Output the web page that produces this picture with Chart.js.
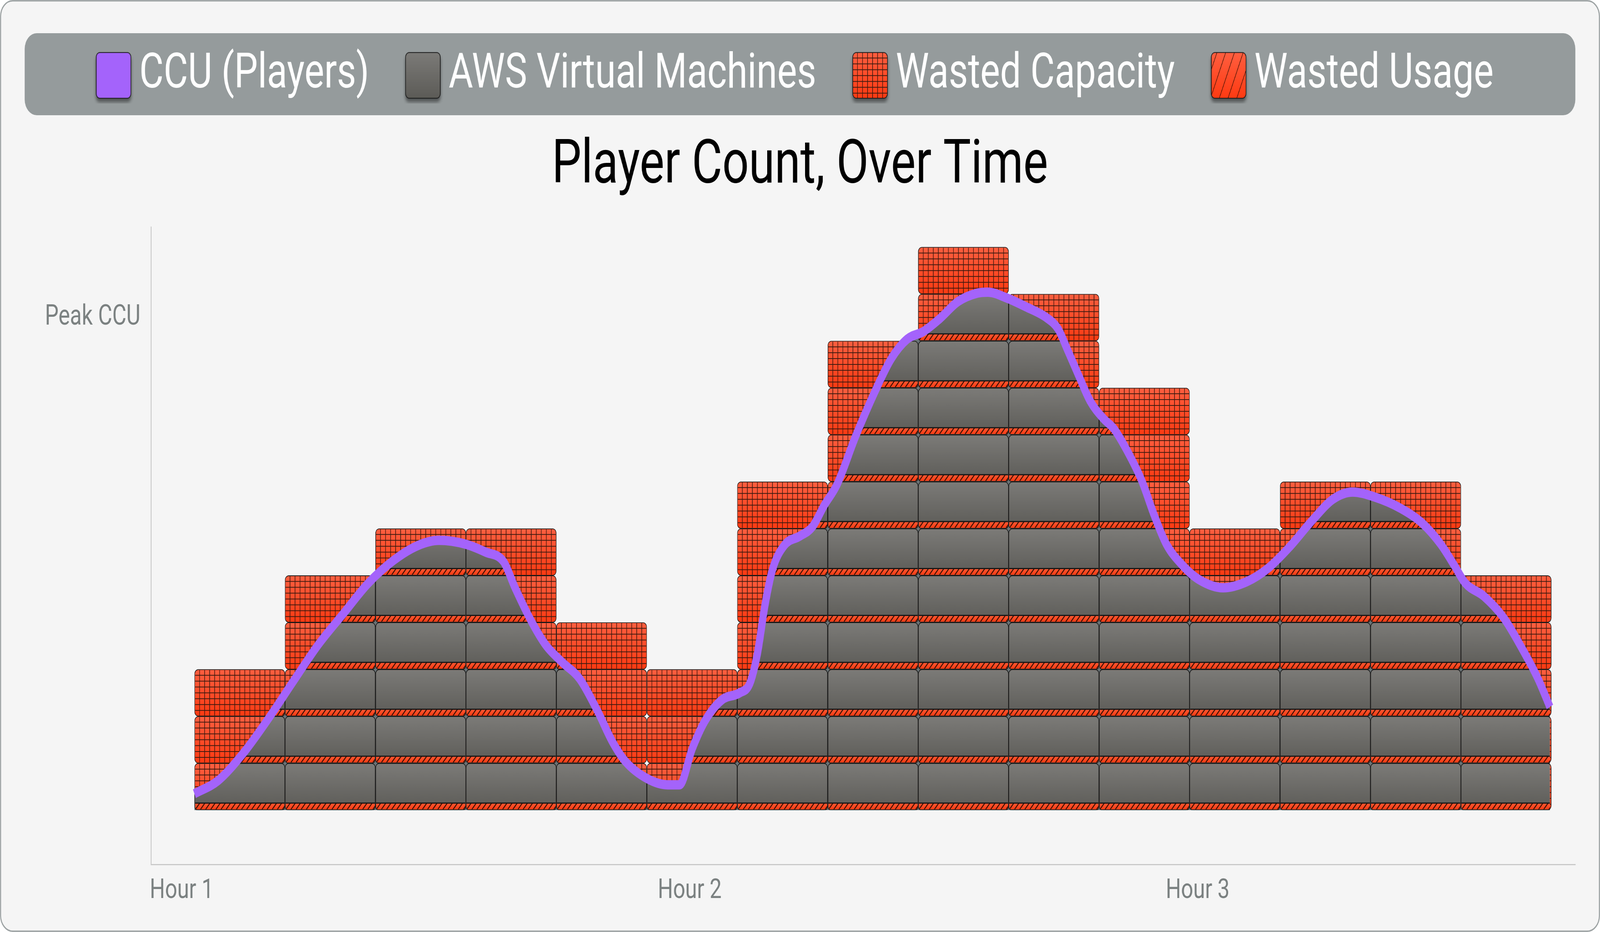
<!DOCTYPE html>
<html>
<head>
<meta charset="utf-8">
<title>Player Count, Over Time</title>
<script src="https://cdn.jsdelivr.net/npm/chart.js"></script>
<style>
  html, body { margin: 0; padding: 0; background: #ffffff; overflow: hidden; width: 100vw; height: 100vh; }
  canvas { display: block; width: 100vw !important; height: 100vh !important; }
</style>
</head>
<body>
<canvas id="grafico" width="5310" height="2386"></canvas>
<script>
// ---- datos ----
const hourTicks = [0, 60, 120];
const hourLabels = ['Hour 1', 'Hour 2', 'Hour 3'];
const yTicks = [10.5];
const yLabels = ['Peak CCU'];
const legendNames = ['CCU (Players)', 'AWS Virtual Machines', 'Wasted Capacity', 'Wasted Usage'];

// centro de cada franja de VMs (minutos) y cuantas VMs hay en ella
const slotMinutes = [6.86, 17.54, 28.23, 38.91, 49.59, 60.28, 70.96, 81.65, 92.33, 103.01, 113.70, 124.38, 135.07, 145.75, 156.43];
const vmCounts = [3, 5, 6, 6, 4, 3, 7, 10, 12, 11, 9, 6, 7, 7, 5];

// jugadores conectados, medido en "VMs llenas"
const ccuMinutes = [1.5, 4.3, 7.3, 10.2, 13.2, 16.1, 19.1, 22.0, 25.0, 27.9,
  30.4, 33.5, 35.9, 38.0, 39.4, 41.2, 43.0, 44.9, 47.0, 49.1,
  50.9, 52.4, 55.0, 57.4, 58.8, 60.3, 61.8, 63.8, 65.9, 67.1,
  68.0, 68.9, 69.8, 71.2, 73.0, 74.5, 75.9, 77.4, 79.6, 81.9,
  83.8, 85.7, 87.6, 89.5, 91.7, 94.0, 95.2, 97.4, 99.7, 102.2,
  103.5, 104.7, 106.0, 107.3, 108.9, 110.1, 111.7, 113.4, 114.9, 116.3,
  118.2, 120.1, 123.0, 125.8, 128.4, 130.9, 133.5, 136.0, 138.3, 140.8,
  144.0, 146.5, 148.7, 150.3, 151.6, 153.8, 156.1, 158.3, 160.2, 161.6];
const ccuValues = [0.35, 0.63, 1.22, 1.94, 2.75, 3.52, 4.19, 4.83, 5.32, 5.64,
  5.75, 5.67, 5.50, 5.30, 4.73, 4.06, 3.52, 3.16, 2.80, 2.12,
  1.45, 1.04, 0.67, 0.54, 0.54, 1.31, 1.90, 2.35, 2.50, 2.70,
  3.34, 4.38, 5.14, 5.65, 5.84, 6.04, 6.50, 6.94, 7.97, 8.93,
  9.62, 10.04, 10.20, 10.47, 10.84, 11.02, 11.04, 10.92, 10.73, 10.49,
  10.26, 9.78, 9.24, 8.72, 8.34, 8.13, 7.65, 7.02, 6.27, 5.67,
  5.22, 4.92, 4.74, 4.87, 5.17, 5.62, 6.17, 6.63, 6.78, 6.68,
  6.43, 6.12, 5.67, 5.22, 4.84, 4.56, 4.11, 3.45, 2.80, 2.20];

// ---- estilos ----
const PURPLE = '#a463fb';
const SLATE = '#6b7477';
const EDGE = '#171717';
const EDGE_W = 1.8;
const GRID_LINE = '#3a1a10';
const HATCH_LINE = '#3b1206';
const RED_TOP = '#ff5f40', RED_BOTTOM = '#ff3a12';
const GRAY_TOP = '#7c7b78', GRAY_BOTTOM = '#5c5b57';
const TICK_COLOR = '#7b8181';
const FONT = 'Roboto';

function layerGradient(chart, k, top, bottom) {
    const y = chart.scales.y;
    if (!y || !chart.chartArea) return bottom;
    const g = chart.ctx.createLinearGradient(0, y.getPixelForValue(k + 1), 0, y.getPixelForValue(k));
    g.addColorStop(0, top);
    g.addColorStop(1, bottom);
    return g;
}

function drawGrid(ctx, el) {
    const w = el.width, h = Math.abs(el.base - el.y);
    const left = el.x - w / 2, top = Math.min(el.y, el.base);
    ctx.save();
    ctx.beginPath();
    ctx.roundRect(left + EDGE_W, top + EDGE_W, w - 2 * EDGE_W, h - 2 * EDGE_W, 10);
    ctx.clip();
    ctx.beginPath();
    for (let j = 1; j < 18; j++) {
        const gx = left + j * w / 18;
        ctx.moveTo(gx, top);
        ctx.lineTo(gx, top + h);
    }
    for (let j = 1; j < 8; j++) {
        const gy = top + j * h / 8;
        ctx.moveTo(left, gy);
        ctx.lineTo(left + w, gy);
    }
    ctx.strokeStyle = GRID_LINE;
    ctx.lineWidth = 2;
    ctx.stroke();
    ctx.restore();
}

function drawStrip(ctx, el) {
    const w = el.width, h = Math.abs(el.base - el.y);
    const left = el.x - w / 2 + EDGE_W, right = el.x + w / 2 - EDGE_W;
    const top = Math.min(el.y, el.base) + EDGE_W;
    const bottom = Math.max(el.y, el.base) - EDGE_W;
    const sh = h * 0.135;
    const sTop = bottom - sh;
    ctx.save();
    ctx.beginPath();
    ctx.roundRect(left, top, right - left, bottom - top, [10, 10, 7, 7]);
    ctx.clip();
    const g = ctx.createLinearGradient(0, sTop, 0, bottom);
    g.addColorStop(0, '#ff5a34');
    g.addColorStop(1, '#ff3a12');
    ctx.fillStyle = g;
    ctx.fillRect(left, sTop, right - left, sh);
    ctx.beginPath();
    for (let t = left - sh; t < right + sh; t += 17) {
        ctx.moveTo(t, bottom);
        ctx.lineTo(t + sh * 0.9, sTop);
    }
    ctx.strokeStyle = HATCH_LINE;
    ctx.lineWidth = 3;
    ctx.stroke();
    ctx.beginPath();
    ctx.moveTo(left, sTop);
    ctx.lineTo(right, sTop);
    ctx.strokeStyle = EDGE;
    ctx.lineWidth = 3;
    ctx.stroke();
    ctx.restore();
}

function makeSwatch(kind) {
    const w = 117, h = 119, m = 30;
    const cv = document.createElement('canvas');
    cv.width = w + 2 * m;
    cv.height = h + 2 * m;
    const c = cv.getContext('2d');
    c.save();
    c.shadowColor = 'rgba(0,0,0,0.45)';
    c.shadowBlur = 10;
    c.shadowOffsetY = 9;
    c.beginPath();
    c.roundRect(m, m, w, h, 13);
    c.fillStyle = EDGE;
    c.fill();
    c.restore();

    let fill = PURPLE;
    if (kind !== 'ccu') {
        fill = c.createLinearGradient(0, m, 0, m + h);
        fill.addColorStop(0, kind === 'vm' ? GRAY_TOP : RED_TOP);
        fill.addColorStop(1, kind === 'vm' ? GRAY_BOTTOM : RED_BOTTOM);
    }
    c.beginPath();
    c.roundRect(m + 2, m + 2, w - 4, h - 4, 11);
    c.fillStyle = fill;
    c.fill();
    c.save();
    c.clip();
    c.beginPath();
    if (kind === 'cap') {
        for (let gx = m + 16.7; gx < m + w; gx += 16.7) { c.moveTo(gx, m); c.lineTo(gx, m + h); }
        for (let gy = m + 15; gy < m + h; gy += 15) { c.moveTo(m, gy); c.lineTo(m + w, gy); }
        c.lineWidth = 2;
        c.strokeStyle = GRID_LINE;
        c.stroke();
    } else if (kind === 'use') {
        for (let t = m - 60; t < m + w + 60; t += 29) { c.moveTo(t, m + h); c.lineTo(t + h * 0.43, m); }
        c.lineWidth = 1.6;
        c.strokeStyle = HATCH_LINE;
        c.stroke();
    }
    c.restore();
    return cv;
}

// ---- datasets ----
const ccuLine = {
    kind: 'ccu',
    type: 'line',
    label: legendNames[0],
    data: ccuMinutes.map((m, i) => ({ x: m, y: ccuValues[i] })),
    borderColor: PURPLE,
    borderWidth: 24,
    borderCapStyle: 'butt',
    borderJoinStyle: 'round',
    pointRadius: 0,
    cubicInterpolationMode: 'monotone',
    fill: 'origin',
    backgroundColor: SLATE,
    order: 0
};

const blockStyle = {
    type: 'bar',
    grouped: false,
    barPercentage: 1,
    categoryPercentage: 1,
    borderWidth: EDGE_W,
    borderColor: EDGE,
    borderSkipped: false
};

const capLayers = [];
const vmLayers = [];
const maxVm = Math.max(...vmCounts);
for (let k = 0; k < maxVm; k++) {
    const capPts = [];
    const vmPts = [];
    slotMinutes.forEach((m, i) => {
        if (vmCounts[i] > k) {
            capPts.push({ x: m, y: 1 });
            vmPts.push({ x: m, y: 1 });
        }
    });
    capLayers.push(Object.assign({}, blockStyle, {
        kind: 'cap',
        label: legendNames[2],
        stack: 'cap',
        order: 2,
        data: capPts,
        backgroundColor: (c) => layerGradient(c.chart, k, RED_TOP, RED_BOTTOM),
        borderRadius: { topLeft: 12, topRight: 12, bottomLeft: 12, bottomRight: 12 }
    }));
    vmLayers.push(Object.assign({}, blockStyle, {
        kind: 'vm',
        label: legendNames[1],
        stack: 'vm',
        order: 1,
        data: vmPts,
        backgroundColor: (c) => layerGradient(c.chart, k, GRAY_TOP, GRAY_BOTTOM),
        borderRadius: { topLeft: 12, topRight: 12, bottomLeft: 9, bottomRight: 9 }
    }));
}

const legendItems = [
    { text: legendNames[0], pointStyle: makeSwatch('ccu') },
    { text: legendNames[1], pointStyle: makeSwatch('vm') },
    { text: legendNames[2], pointStyle: makeSwatch('cap') },
    { text: legendNames[3], pointStyle: makeSwatch('use') }
].map(it => Object.assign(it, { fontColor: '#ffffff', fillStyle: 'transparent', strokeStyle: 'transparent', lineWidth: 0, hidden: false }));

// ---- plugins ----
const fondo = {
    id: 'fondo',
    beforeDraw(chart) {
        const ctx = chart.ctx;
        const W = chart.width, H = chart.height;
        ctx.save();
        ctx.fillStyle = '#ffffff';
        ctx.fillRect(0, 0, W, H);
        ctx.beginPath();
        ctx.roundRect(2, 2, W - 4, H - 4, 40);
        ctx.fillStyle = '#f5f5f5';
        ctx.fill();
        ctx.lineWidth = 3.5;
        ctx.strokeStyle = '#9ba1a2';
        ctx.stroke();

        const lg = chart.legend;
        const rowTop = lg.top + lg.options.labels.padding;
        ctx.beginPath();
        ctx.roundRect(lg.left, rowTop - 46, lg.right - lg.left, 124 + 46 + 40, 40);
        ctx.fillStyle = '#959b9c';
        ctx.fill();
        ctx.restore();
    }
};

const bloques = {
    id: 'bloques',
    beforeDatasetDraw(chart, args) {
        const ds = chart.data.datasets[args.index];
        if (ds.kind !== 'vm') return;
        const lineMeta = chart.getDatasetMeta(0);
        const line = lineMeta.dataset;
        const pts = lineMeta.data;
        const base = chart.scales.y.getPixelForValue(0);
        const ctx = chart.ctx;
        line.updateControlPoints(chart.chartArea, 'x');
        ctx.save();
        ctx.beginPath();
        if (typeof line.path === 'function') {
            line.path(ctx);
        } else {
            ctx.moveTo(pts[0].x, pts[0].y);
            for (let i = 1; i < pts.length; i++) {
                ctx.bezierCurveTo(pts[i - 1].cp2x, pts[i - 1].cp2y, pts[i].cp1x, pts[i].cp1y, pts[i].x, pts[i].y);
            }
        }
        ctx.lineTo(pts[pts.length - 1].x, base);
        ctx.lineTo(pts[0].x, base);
        ctx.closePath();
        ctx.clip();
    },
    afterDatasetDraw(chart, args) {
        const ds = chart.data.datasets[args.index];
        const ctx = chart.ctx;
        if (ds.kind === 'cap') {
            args.meta.data.forEach(el => drawGrid(ctx, el));
        }
        if (ds.kind === 'vm') {
            args.meta.data.forEach(el => drawStrip(ctx, el));
            ctx.restore();
        }
    }
};

// ---- grafico ----
const ctx = document.getElementById('grafico');
const chart = new Chart(ctx, {
    type: 'bar',
    data: {
        datasets: [ccuLine].concat(vmLayers, capLayers)
    },
    options: {
        responsive: false,
        devicePixelRatio: 1,
        animation: false,
        events: [],
        layout: { padding: { left: 82, right: 82, top: -24, bottom: 0 } },
        scales: {
            x: {
                type: 'linear',
                offset: false,
                min: -3.63,
                max: 164.6,
                grid: { display: false, offset: false },
                border: { display: true, color: '#c9c9c9', width: 3 },
                afterBuildTicks: (s) => { s.ticks = hourTicks.map(v => ({ value: v })); },
                afterFit: (s) => { s.height = 173; },
                ticks: {
                    autoSkip: false,
                    maxRotation: 0,
                    padding: 18,
                    color: TICK_COLOR,
                    font: { family: FONT, size: 71 },
                    callback: (v) => hourLabels[hourTicks.indexOf(v)]
                }
            },
            y: {
                type: 'linear',
                stacked: true,
                min: -1.157,
                max: 12.43,
                grid: { display: false },
                border: { display: true, color: '#c9c9c9', width: 3 },
                afterBuildTicks: (s) => { s.ticks = yTicks.map(v => ({ value: v })); },
                afterFit: (s) => { s.width = 419; },
                ticks: {
                    padding: 27,
                    color: TICK_COLOR,
                    font: { family: FONT, size: 72 },
                    callback: (v) => yLabels[yTicks.indexOf(v)]
                }
            }
        },
        plugins: {
            filler: { drawTime: 'beforeDatasetsDraw' },
            tooltip: { enabled: false },
            legend: {
                position: 'top',
                align: 'center',
                weight: 1000,
                onClick: () => {},
                labels: {
                    usePointStyle: true,
                    boxWidth: 47,
                    boxHeight: 124,
                    padding: 155,
                    color: '#ffffff',
                    font: { family: FONT, size: 124 },
                    generateLabels: () => legendItems
                }
            },
            title: {
                display: true,
                text: 'Player Count, Over Time',
                weight: 500,
                color: '#000000',
                font: { family: FONT, size: 155, weight: 'normal' },
                padding: { top: 70, bottom: 60 }
            }
        }
    },
    plugins: [fondo, bloques]
});
</script>
</body>
</html>
